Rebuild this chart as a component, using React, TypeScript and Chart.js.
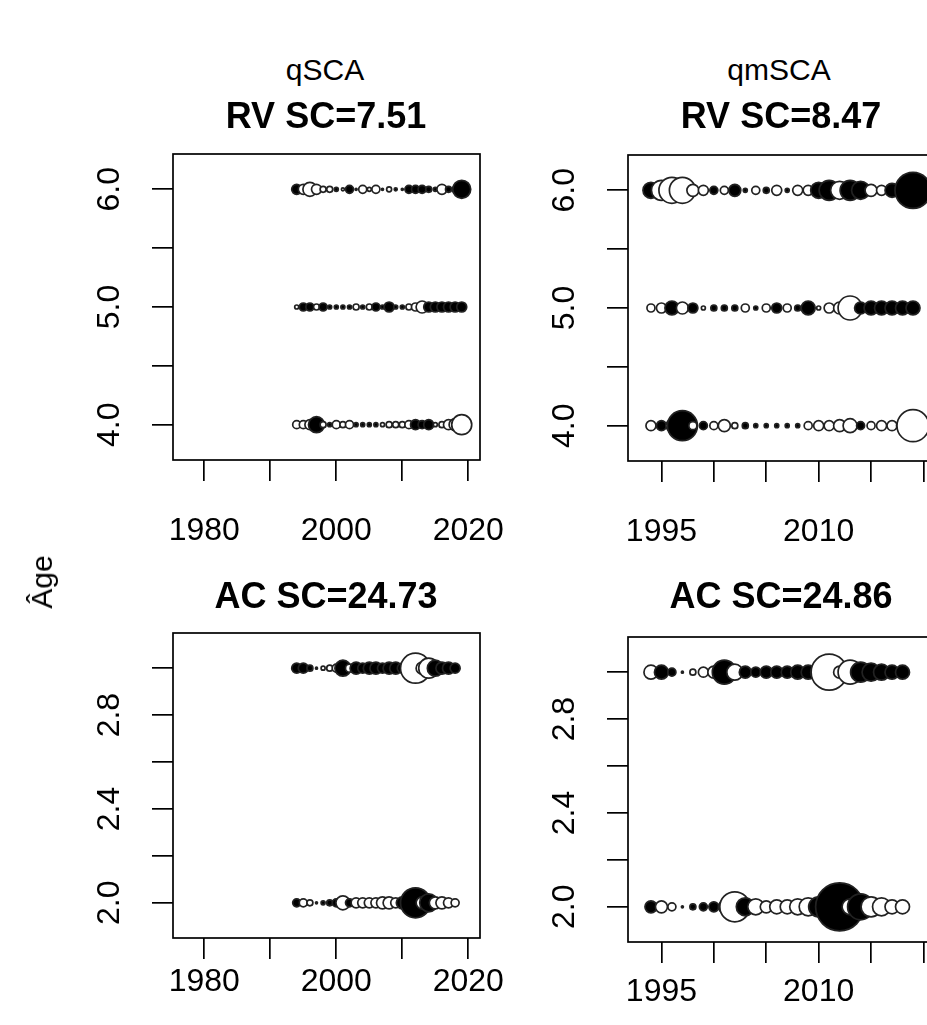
import React, { useEffect, useRef } from "react";
import { Chart, registerables } from "chart.js";

Chart.register(...registerables);

const FONT = "'Liberation Sans', Arial, Helvetica, sans-serif";

// ---------- data ----------
const YEARS_RV = [1994, 1995, 1996, 1997, 1998, 1999, 2000, 2001, 2002, 2003, 2004, 2005, 2006,
  2007, 2008, 2009, 2010, 2011, 2012, 2013, 2014, 2015, 2016, 2017, 2018, 2019];
const YEARS_AC = [1994, 1995, 1996, 1997, 1998, 1999, 2000, 2001, 2002, 2003, 2004, 2005, 2006,
  2007, 2008, 2009, 2010, 2011, 2012, 2013, 2014, 2015, 2016, 2017, 2018];

// signed residual sizes (positive = filled black, negative = open white)
const QSCA_RV_AGE6 = [5, -5, -7, -5, -3, -3, 2, -1.5, 4, 1, -4, -2, -4, 1, -2.5, 1.5, 1, 4, 4, 4, 3, 2, -5, 3, 3, 9];
const QSCA_RV_AGE5 = [-2, 4, 4, -3, 4, 2, 2, 2, 2, -3, 2, -3, 4, 2, 5, 2, 2, -3, -4, -6, 5, 5, 5, 5, 5, 5];
const QSCA_RV_AGE4 = [-4, -4, -5, 8, -3, 2, -4, -3, -4, 2, 2, 2, 2, -2, -3, -3, -3, -4, 5, 4, 5, -2, -3, -5, -6, -10];

const QMSCA_RV_AGE6 = [8, -10, -13, -13, -6, -5, 4, -4, 6, 2, -4, 3, -5, 2, -5, -5, 8, 10, -9, 10, 9, -6, -5, 7, 6, 18];
const QMSCA_RV_AGE5 = [-4, -5, 7, -6, 5, -2, 3, 3, 3, -4, 2, -4, 5, -4, 3, 7, -2, -5, -6, -12, 6, 7, 7, 7, 7, 7];
const QMSCA_RV_AGE4 = [-5, 5, -6, 15, -4, 4, -4, -6, -3, 3, 2, 2, 2, 2, 2, -4, -5, -5, -6, -7, 4, -4, -5, -5, -6, -16];

const QSCA_AC_AGE3 = [5, 5, 3, 1, -2, -3, -4, 8, -4, 6, 5, 6, 6, 5, 6, 6, 5, -7, -15, -6, -10, 8, 6, 6, 5];
const QSCA_AC_AGE2 = [4, -4, -3, 1, 2, 3, 4, -7, 4, -5, -5, -5, -5, -6, -6, -5, 6, 8, 15, -6, 9, -6, -6, -5, -4];

const QMSCA_AC_AGE3 = [-7, 7, 4, 1, -3, -5, -6, 12, -8, 6, 5, 6, 6, 6, 7, 7, 8, -18, -6, -12, 10, 9, 8, 7, 7];
const QMSCA_AC_AGE2 = [6, -6, -4, 1, 3, 4, 5, 6, -15, 9, -8, -6, -7, -7, -8, -9, 10, 12, 24, -8, 13, -10, -9, -7, -7];

// axis ticks and labels
const QSCA_X_TICKS = [1980, 1990, 2000, 2010, 2020];
const QSCA_X_LABELS = [1980, 2000, 2020];
const QMSCA_X_TICKS = [1995, 2000, 2005, 2010, 2015, 2020];
const QMSCA_X_LABELS = [1995, 2010];
const RV_Y_TICKS = [4, 4.5, 5, 5.5, 6];
const RV_Y_LABELS = [4, 5, 6];
const AC_Y_TICKS = [2, 2.2, 2.4, 2.6, 2.8, 3];
const AC_Y_LABELS = [2, 2.4, 2.8];

// ---------- layout ----------
const YW = 130;
const PT = 60;
const PR = 40;
const XH = 110;
const TICK_FONT = 32;

type Row = { age: number; values: number[] };
type Spec = {
  box: [number, number, number, number];
  xPad: number;
  xMin: number; xMax: number; yMin: number; yMax: number;
  years: number[]; rows: Row[];
  xTicks: number[]; xLabels: number[]; yTicks: number[]; yLabels: number[];
};

const SPECS: Spec[] = [
  {
    box: [173, 154, 480, 460], xPad: 31, xMin: 1975.26, xMax: 2021.77, yMin: 3.7, yMax: 6.3,
    years: YEARS_RV,
    rows: [{ age: 6, values: QSCA_RV_AGE6 }, { age: 5, values: QSCA_RV_AGE5 }, { age: 4, values: QSCA_RV_AGE4 }],
    xTicks: QSCA_X_TICKS, xLabels: QSCA_X_LABELS, yTicks: RV_Y_TICKS, yLabels: RV_Y_LABELS,
  },
  {
    box: [628, 155, 935, 461], xPad: 31, xMin: 1991.81, xMax: 2021.1, yMin: 3.7, yMax: 6.3,
    years: YEARS_RV,
    rows: [{ age: 6, values: QMSCA_RV_AGE6 }, { age: 5, values: QMSCA_RV_AGE5 }, { age: 4, values: QMSCA_RV_AGE4 }],
    xTicks: QMSCA_X_TICKS, xLabels: QMSCA_X_LABELS, yTicks: RV_Y_TICKS, yLabels: RV_Y_LABELS,
  },
  {
    box: [173, 633, 480, 938], xPad: 4, xMin: 1975.26, xMax: 2021.77, yMin: 1.85, yMax: 3.15,
    years: YEARS_AC,
    rows: [{ age: 3, values: QSCA_AC_AGE3 }, { age: 2, values: QSCA_AC_AGE2 }],
    xTicks: QSCA_X_TICKS, xLabels: QSCA_X_LABELS, yTicks: AC_Y_TICKS, yLabels: AC_Y_LABELS,
  },
  {
    box: [628, 637, 935, 942], xPad: 10, xMin: 1991.81, xMax: 2021.1, yMin: 1.85, yMax: 3.15,
    years: YEARS_AC,
    rows: [{ age: 3, values: QMSCA_AC_AGE3 }, { age: 2, values: QMSCA_AC_AGE2 }],
    xTicks: QMSCA_X_TICKS, xLabels: QMSCA_X_LABELS, yTicks: AC_Y_TICKS, yLabels: AC_Y_LABELS,
  },
];

const boxPlugin = {
  id: "rbox",
  afterDatasetsDraw(chart: any) {
    const { ctx, chartArea: a } = chart;
    ctx.save();
    ctx.strokeStyle = "#000";
    ctx.lineWidth = 1.7;
    ctx.strokeRect(a.left, a.top, a.right - a.left, a.bottom - a.top);
    ctx.restore();
  },
};

function Panel({ spec }: { spec: Spec }) {
  const ref = useRef<HTMLCanvasElement | null>(null);
  const [l, t, r, b] = spec.box;
  const w = YW + (r - l) + PR;
  const h = PT + (b - t) + XH;

  useEffect(() => {
    if (!ref.current) return;
    const grid = {
      display: true,
      drawOnChartArea: false,
      drawTicks: true,
      tickLength: 21,
      color: "#000",
      lineWidth: 1.7,
    };
    const chart = new Chart(ref.current, {
      type: "bubble",
      data: {
        datasets: spec.rows.map((row) => ({
          data: spec.years.map((yr, i) => ({ x: yr, y: row.age, r: Math.abs(row.values[i]), v: row.values[i] })),
          backgroundColor: (c: any) => (c.raw && c.raw.v > 0 ? "#000" : "#fff"),
          borderColor: "#222",
          borderWidth: 1.7,
          hoverRadius: 0,
        })),
      },
      options: {
        responsive: false,
        animation: false,
        events: [],
        layout: { padding: { left: 0, top: PT, right: PR, bottom: 0 } },
        plugins: { legend: { display: false }, tooltip: { enabled: false } },
        scales: {
          x: {
            type: "linear",
            min: spec.xMin,
            max: spec.xMax,
            afterBuildTicks: (s: any) => { s.ticks = spec.xTicks.map((v) => ({ value: v })); },
            afterFit: (s: any) => {
              s.height = XH;
              s.paddingLeft = 0; s.paddingRight = 0; s.paddingTop = 0; s.paddingBottom = 0;
            },
            grid,
            border: { display: false },
            ticks: {
              autoSkip: false,
              minRotation: 0,
              maxRotation: 0,
              padding: spec.xPad,
              color: "#000",
              font: { family: FONT, size: TICK_FONT },
              callback: (v: any) => (spec.xLabels.includes(Number(v)) ? String(v) : ""),
            },
          },
          y: {
            type: "linear",
            min: spec.yMin,
            max: spec.yMax,
            afterBuildTicks: (s: any) => { s.ticks = spec.yTicks.map((v) => ({ value: v })); },
            afterFit: (s: any) => {
              s.width = YW;
              s.paddingLeft = 0; s.paddingRight = 0; s.paddingTop = 0; s.paddingBottom = 0;
            },
            grid,
            border: { display: false },
            ticks: {
              autoSkip: false,
              minRotation: 90,
              maxRotation: 90,
              crossAlign: "center",
              padding: 20,
              color: "#000",
              font: { family: FONT, size: TICK_FONT },
              callback: (v: any) => (spec.yLabels.includes(Number(v)) ? Number(v).toFixed(1) : ""),
            },
          },
        },
      } as any,
      plugins: [boxPlugin],
    });
    return () => chart.destroy();
  }, [spec]);

  return (
    <canvas
      ref={ref}
      width={w}
      height={h}
      style={{ position: "absolute", left: l - YW, top: t - PT, width: w, height: h }}
    />
  );
}

function Label({ text, x, y, size, bold, rotate }: { text: string; x: number; y: number; size: number; bold?: boolean; rotate?: boolean }) {
  return (
    <div
      style={{
        position: "absolute",
        left: x,
        top: y,
        transform: `translate(-50%, -50%)${rotate ? " rotate(-90deg)" : ""}`,
        fontFamily: FONT,
        fontSize: size,
        fontWeight: bold ? "bold" : "normal",
        lineHeight: 1,
        whiteSpace: "nowrap",
        color: "#000",
      }}
    >
      {text}
    </div>
  );
}

export default function App() {
  return (
    <div
      style={{
        position: "absolute",
        left: 0,
        top: 0,
        width: 927,
        height: 1025,
        overflow: "hidden",
        background: "#fff",
      }}
    >
      {SPECS.map((s, i) => (
        <Panel key={i} spec={s} />
      ))}
      <Label text="qSCA" x={325} y={70} size={30} />
      <Label text="qmSCA" x={779} y={70} size={30} />
      <Label text="RV SC=7.51" x={326} y={116} size={36} bold />
      <Label text="RV SC=8.47" x={781} y={116} size={36} bold />
      <Label text="AC SC=24.73" x={326} y={596} size={36} bold />
      <Label text="AC SC=24.86" x={781} y={596} size={36} bold />
      <Label text="Âge" x={42} y={582} size={30} rotate />
    </div>
  );
}
